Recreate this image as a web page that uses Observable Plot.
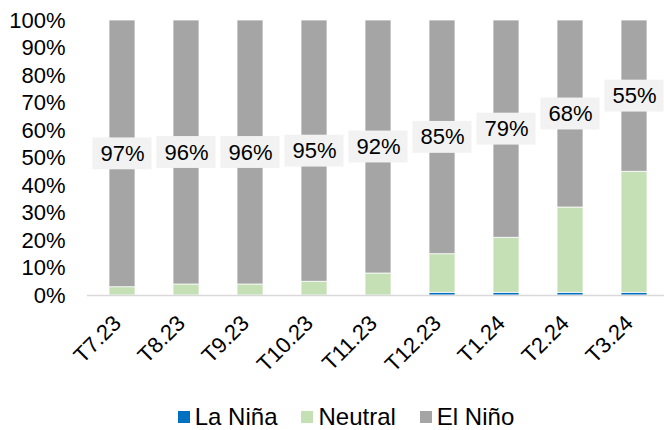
<!DOCTYPE html>
<html><head><meta charset="utf-8">
<script src="https://cdn.jsdelivr.net/npm/d3@7"></script>
<script src="https://cdn.jsdelivr.net/npm/@observablehq/plot@0.6"></script>
<style>
body{margin:0;background:#fff;font-family:"Liberation Sans",Arial,sans-serif;}
#legend{display:flex;justify-content:center;align-items:center;gap:24px;font-size:24px;line-height:24px;color:#000;padding-left:28px;height:24px;margin-top:20px;}
#legend .item{display:flex;align-items:center;gap:5px;}
#legend .sw{width:12px;height:12px;display:inline-block;}
</style>
</head><body>
<div id="chart"></div>
<div id="legend"></div>
<script>
const periods = ["T7.23","T8.23","T9.23","T10.23","T11.23","T12.23","T1.24","T2.24","T3.24"];
const laNina  = [0,0,0,0,0,1,1,1,1];
const neutral = [3,4,4,5,8,14,20,31,44];
const elNino  = [97,96,96,95,92,85,79,68,55];
const seriesNames  = ["La Niña","Neutral","El Niño"];
const seriesColors = ["#0070c0","#c5e0b4","#a5a5a5"];
const yTicks = [0,10,20,30,40,50,60,70,80,90,100];

const seriesValues = [laNina, neutral, elNino];
const data = [];
seriesNames.forEach((s, k) => periods.forEach((p, i) => data.push({period: p, series: s, value: seriesValues[k][i]})));
const labels = periods.map((p, i) => ({period: p, value: elNino[i], mid: 100 - elNino[i] / 2}));

const boxHalf = 5.8; // half-height of label box in % units (~16px)

const chart = Plot.plot({
  width: 664,
  height: 385,
  marginTop: 20,
  marginBottom: 90,
  marginLeft: 87,
  marginRight: 0,
  style: {fontFamily: "'Liberation Sans', Arial, sans-serif", fontSize: "22px", color: "#000", background: "#fff"},
  x: {domain: periods, range: [87, 668], paddingInner: 0.6, paddingOuter: 0.3, label: null},
  y: {domain: [0, 100], label: null},
  color: {domain: seriesNames, range: seriesColors},
  marks: [
    Plot.barY(data, {x: "period", y: "value", fill: "series", order: seriesNames, stroke: "#fff", strokeWidth: 0.75}),
    Plot.ruleY([0], {stroke: "#d9d9d9", strokeWidth: 1.5}),
    Plot.barY(labels, {x: "period", y1: d => d.mid - boxHalf, y2: d => d.mid + boxHalf, fill: "#f2f2f2", insetLeft: -16.5, insetRight: -16.5}),
    Plot.text(labels, {x: "period", y: "mid", text: d => d.value + "%", fill: "#000", fontSize: 22}),
    Plot.axisX({tickRotate: -45, tickSize: 0, tickPadding: 22, dx: -5, dy: 2, label: null, fontSize: 22}),
    Plot.axisY({ticks: yTicks, tickFormat: d => d + "%", tickSize: 0, tickPadding: 22, label: null, fontSize: 22})
  ]
});
document.getElementById("chart").appendChild(chart);

const legend = d3.select("#legend");
seriesNames.forEach((s, k) => {
  const it = legend.append("div").attr("class", "item");
  it.append("span").attr("class", "sw").style("background", seriesColors[k]);
  it.append("span").text(s);
});
</script>
</body></html>
